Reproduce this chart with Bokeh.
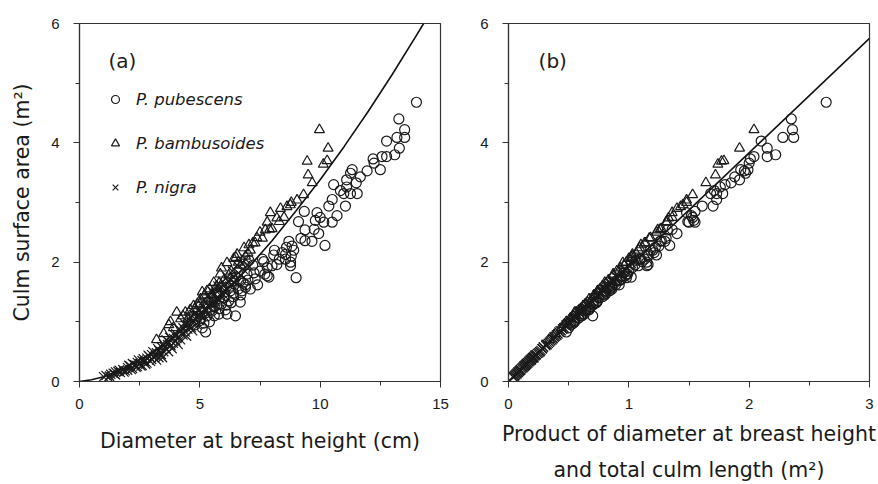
from bokeh.plotting import figure
from bokeh.layouts import row
from bokeh.models import Range1d, SingleIntervalTicker, Legend, LegendItem, Label
from bokeh.embed import file_html
from bokeh.resources import INLINE

# ---------------- data ----------------
# P. pubescens : DBH (cm), culm surface area (m2), DBH x culm length (m2)
pub_dbh = [14.0, 13.27, 13.51, 13.51, 13.19, 13.29, 12.76, 13.1, 12.76, 12.57, 12.2, 12.5,
           12.24, 11.95, 11.67, 11.33, 11.26, 11.5, 11.1, 11.1, 11.26, 11.54, 10.98, 11.05,
           10.56, 10.84, 10.5, 10.36, 10.7, 10.5, 10.15, 9.87, 10.0, 9.8, 9.94, 9.75, 10.2,
           9.37, 9.34, 9.1, 9.37, 9.66, 8.83, 8.9, 9.0, 8.77, 8.77, 8.56, 8.56, 8.42, 8.2,
           8.07, 8.0, 7.8, 7.8, 7.87, 7.66, 7.4, 7.25, 6.96, 6.9, 6.75, 6.68, 6.48, 6.4, 6.06,
           6.13, 5.79, 5.24, 5.17, 5.6, 5.88, 6.41, 6.69, 7.04, 6.27, 5.79, 5.44, 5.03,
           4.8, 5.0, 5.3, 5.5, 5.6, 5.9, 6.0, 6.2, 6.3, 6.6, 6.8, 7.0, 7.2, 5.7, 6.5, 7.5,
           7.6, 8.1, 8.6, 8.7,
           5.1, 5.4, 5.6, 5.8, 6.1, 6.3, 6.4, 6.7, 6.9, 7.1, 7.3, 7.7, 8.3, 8.8, 9.2]
pub_area = [4.68, 4.40, 4.22, 4.09, 4.09, 3.91, 4.03, 3.80, 3.77, 3.77, 3.73, 3.55,
            3.66, 3.53, 3.43, 3.55, 3.49, 3.33, 3.26, 3.38, 3.15, 3.15, 3.15, 2.94,
            3.30, 3.20, 3.05, 2.94, 2.78, 2.67, 2.67, 2.83, 2.75, 2.70, 2.48, 2.55, 2.28,
            2.54, 2.85, 2.68, 2.36, 2.35, 2.27, 2.20, 1.74, 2.00, 1.94, 2.13, 2.05, 2.16, 1.96,
            2.12, 1.94, 1.91, 1.77, 1.75, 2.01, 1.62, 1.82, 1.80, 1.58, 1.52, 1.33, 1.10, 1.42, 1.20,
            1.13, 1.13, 0.83, 0.98, 1.33, 1.58, 1.69, 1.69, 2.03, 1.52, 1.46, 1.20, 1.06,
            0.95, 1.02, 1.10, 1.18, 1.25, 1.30, 1.40, 1.35, 1.60, 1.55, 1.65, 1.70, 1.95, 1.50, 1.75, 1.85,
            2.05, 2.20, 2.25, 2.35,
            0.90, 1.00, 1.10, 1.22, 1.28, 1.32, 1.48, 1.45, 1.62, 1.55, 1.72, 1.80, 2.05, 2.10, 2.40]
pub_dl = [2.64, 2.35, 2.36, 2.37, 2.28, 2.15, 2.10, 2.22, 2.15, 2.04, 2.01, 1.99,
          2.00, 1.96, 1.88, 1.93, 1.97, 1.85, 1.76, 1.92, 1.78, 1.73, 1.68, 1.70,
          1.80, 1.71, 1.73, 1.61, 1.52, 1.55, 1.50, 1.48, 1.53, 1.54, 1.40, 1.36, 1.34,
          1.32, 1.55, 1.49, 1.27, 1.30, 1.25, 1.20, 0.98, 1.15, 1.15, 1.16, 1.09, 1.21, 1.16,
          1.23, 1.08, 1.03, 0.97, 1.02, 1.11, 0.92, 0.96, 0.98, 0.86, 0.84, 0.73, 0.70, 0.78, 0.67,
          0.63, 0.61, 0.48, 0.54, 0.70, 0.83, 0.90, 0.92, 1.06, 0.80, 0.79, 0.64, 0.58,
          0.52, 0.55, 0.60, 0.64, 0.68, 0.71, 0.75, 0.74, 0.86, 0.84, 0.88, 0.93, 1.05, 0.80, 0.93, 1.00,
          1.10, 1.18, 1.22, 1.26,
          0.50, 0.55, 0.61, 0.67, 0.70, 0.73, 0.81, 0.80, 0.89, 0.86, 0.94, 0.99, 1.13, 1.16, 1.31]

# P. bambusoides
bam_dbh = [9.97, 10.33, 10.13, 10.29, 9.46, 9.5, 9.67, 9.31, 9.04, 8.76, 8.62, 8.35, 8.2,
           7.93, 7.8, 8.0, 7.72, 7.37, 7.3, 7.04, 6.84, 6.55, 6.13, 6.41, 5.85, 5.58, 5.3,
           5.03, 4.74, 4.4, 4.04, 3.78, 3.71, 6.3, 6.0, 5.7, 6.9, 7.1, 7.6, 5.2, 4.9, 4.6,
           4.2, 3.9, 3.5, 3.2, 8.5, 6.6,
           4.3, 4.5, 4.8, 5.0, 5.1, 5.4, 5.5, 5.8, 5.9, 6.2, 6.5, 6.7, 7.0, 7.2, 7.5, 7.9, 8.3, 8.8]
bam_area = [4.22, 3.91, 3.64, 3.70, 3.69, 3.46, 3.33, 3.13, 3.04, 2.96, 2.93, 2.90, 2.74,
            2.83, 2.67, 2.56, 2.54, 2.41, 2.32, 2.29, 2.24, 2.13, 1.99, 2.06, 1.80, 1.66, 1.52,
            1.38, 1.27, 1.16, 1.16, 1.00, 0.95, 1.85, 1.70, 1.60, 2.10, 2.20, 2.40, 1.45, 1.30, 1.20,
            1.05, 0.90, 0.80, 0.70, 2.75, 2.00,
            1.10, 1.05, 1.22, 1.30, 1.50, 1.55, 1.45, 1.65, 1.90, 1.78, 2.08, 1.95, 2.15, 2.32, 2.50, 2.55, 2.68, 3.00]
bam_dl = [2.04, 1.92, 1.74, 1.79, 1.77, 1.72, 1.64, 1.53, 1.48, 1.45, 1.43, 1.40, 1.33,
          1.36, 1.31, 1.27, 1.24, 1.18, 1.13, 1.10, 1.09, 1.03, 0.95, 1.00, 0.87, 0.80, 0.74,
          0.67, 0.62, 0.56, 0.55, 0.48, 0.46, 0.90, 0.83, 0.78, 1.03, 1.08, 1.17, 0.71, 0.64, 0.59,
          0.51, 0.44, 0.39, 0.34, 1.36, 0.98,
          0.54, 0.52, 0.60, 0.64, 0.74, 0.76, 0.72, 0.81, 0.93, 0.87, 1.02, 0.96, 1.06, 1.14, 1.23, 1.26, 1.32, 1.48]

# P. nigra
nig_dbh = [1.0, 1.1, 1.2, 1.3, 1.4, 1.5, 1.6, 1.7, 1.8, 1.9, 2.0, 2.0, 2.1, 2.2, 2.3, 2.4, 2.4,
           2.5, 2.6, 2.6, 2.7, 2.8, 2.8, 2.9, 3.0, 3.0, 3.1, 3.2, 3.2, 3.3, 3.4, 3.4, 3.5, 3.5,
           3.6, 3.7, 3.7, 3.8, 3.9, 3.9, 4.0, 4.0, 4.1, 4.2, 4.2, 4.3, 4.3, 4.4, 4.4, 4.5, 4.5,
           4.6, 4.6, 4.7, 4.7, 4.8, 4.8, 4.9, 5.0, 5.0, 5.1, 5.1, 5.2, 5.3, 5.3, 5.4, 5.4, 5.5,
           5.6, 5.6, 5.7, 5.8, 5.8, 5.9, 6.0, 6.0, 6.1, 6.2, 6.3, 6.4, 6.5, 6.6, 6.7, 6.8,
           2.2, 1.5, 3.6, 4.1, 3.3,
           1.25, 1.45, 1.65, 1.85, 2.05, 2.15, 2.35, 2.45, 2.55, 2.65, 2.75, 2.85, 2.95, 3.05,
           3.15, 3.25, 3.35, 3.45, 3.55, 3.65, 3.75, 3.85, 3.95, 4.05, 4.15, 4.25, 4.35, 4.45,
           4.55, 4.65, 4.75, 4.85, 4.95, 5.05, 5.15, 5.25, 5.35, 5.45, 5.55, 5.65, 5.75, 5.85,
           5.95, 6.05, 6.15, 6.25, 6.35, 6.45, 6.55, 6.75, 6.9, 7.0]
nig_area = [0.08, 0.10, 0.07, 0.12, 0.14, 0.11, 0.17, 0.15, 0.20, 0.18, 0.23, 0.19, 0.26, 0.22,
            0.28, 0.25, 0.32, 0.30, 0.35, 0.27, 0.33, 0.39, 0.31, 0.42, 0.37, 0.45, 0.40, 0.48,
            0.36, 0.52, 0.45, 0.58, 0.50, 0.62, 0.55, 0.66, 0.50, 0.60, 0.72, 0.64, 0.68, 0.80,
            0.75, 0.85, 0.70, 0.90, 0.78, 0.95, 0.83, 0.88, 1.00, 0.93, 1.08, 0.98, 0.85, 1.05,
            1.15, 1.10, 1.20, 1.02, 1.15, 1.28, 1.22, 1.32, 1.12, 1.25, 1.40, 1.35, 1.45, 1.28,
            1.40, 1.55, 1.38, 1.48, 1.60, 1.45, 1.55, 1.68, 1.62, 1.75, 1.70, 1.82, 1.78, 1.88,
            0.30, 0.16, 0.70, 0.62, 0.40,
            0.09, 0.13, 0.19, 0.16, 0.27, 0.20, 0.24, 0.36, 0.26, 0.38, 0.29, 0.44, 0.34, 0.50,
            0.43, 0.55, 0.47, 0.40, 0.57, 0.62, 0.74, 0.55, 0.78, 0.72, 0.88, 0.80, 0.98, 0.76,
            1.05, 0.90, 1.12, 0.96, 1.18, 1.08, 1.35, 1.18, 1.45, 1.30, 1.50, 1.34, 1.60, 1.45,
            1.68, 1.52, 1.75, 1.60, 1.85, 1.65, 1.95, 1.98, 2.05, 1.95]
nig_dl = [0.04, 0.05, 0.04, 0.06, 0.07, 0.06, 0.09, 0.08, 0.10, 0.09, 0.12, 0.10, 0.13, 0.11,
          0.14, 0.13, 0.16, 0.15, 0.18, 0.14, 0.17, 0.20, 0.16, 0.21, 0.19, 0.23, 0.20, 0.25,
          0.19, 0.27, 0.23, 0.29, 0.26, 0.31, 0.28, 0.34, 0.26, 0.31, 0.37, 0.33, 0.35, 0.41,
          0.38, 0.43, 0.36, 0.46, 0.40, 0.48, 0.42, 0.45, 0.51, 0.48, 0.55, 0.50, 0.44, 0.54,
          0.59, 0.56, 0.61, 0.52, 0.59, 0.65, 0.62, 0.68, 0.57, 0.64, 0.72, 0.69, 0.74, 0.66,
          0.72, 0.79, 0.71, 0.76, 0.82, 0.74, 0.80, 0.86, 0.83, 0.90, 0.87, 0.93, 0.91, 0.96,
          0.15, 0.08, 0.36, 0.32, 0.21,
          0.05, 0.07, 0.10, 0.08, 0.14, 0.10, 0.12, 0.18, 0.13, 0.19, 0.15, 0.22, 0.17, 0.26,
          0.22, 0.28, 0.24, 0.21, 0.29, 0.32, 0.38, 0.28, 0.40, 0.37, 0.45, 0.41, 0.50, 0.39,
          0.54, 0.46, 0.57, 0.49, 0.60, 0.55, 0.69, 0.60, 0.74, 0.67, 0.77, 0.69, 0.82, 0.74,
          0.86, 0.78, 0.90, 0.82, 0.95, 0.85, 1.00, 1.02, 1.05, 1.00]

# fitted curve (a) and fitted line (b)
curve_dbh = [0, 0.5, 1, 1.5, 2, 3, 4, 5, 6, 7, 8, 9, 10, 11, 12, 13, 14, 14.3]
curve_area = [0, 0.03, 0.08, 0.16, 0.25, 0.48, 0.77, 1.12, 1.48, 1.90, 2.36, 2.86, 3.38,
              3.94, 4.53, 5.15, 5.80, 6.0]
line_dl = [0, 3]
line_area = [0, 5.75]

LABEL_FONT = "DejaVu Sans"
TICK_FONT = "Liberation Sans"
INK = "#1a1a1a"
MS = 10
LW = 1.2


def style(p, x_interval):
    p.xaxis.ticker = SingleIntervalTicker(interval=x_interval, num_minor_ticks=2)
    p.yaxis.ticker = SingleIntervalTicker(interval=2, num_minor_ticks=2)
    p.xgrid.visible = False
    p.ygrid.visible = False
    p.outline_line_color = "#333333"
    p.outline_line_width = 1.2
    for ax in (p.xaxis[0], p.yaxis[0]):
        ax.axis_line_color = "#333333"
        ax.axis_line_width = 1.2
        ax.major_tick_line_color = "#333333"
        ax.minor_tick_line_color = "#333333"
        ax.major_tick_out = 6
        ax.major_tick_in = 0
        ax.minor_tick_out = 4
        ax.minor_tick_in = 0
        ax.major_label_text_font = TICK_FONT
        ax.major_label_text_font_size = "15px"
        ax.major_label_text_color = INK
        ax.axis_label_text_font = LABEL_FONT
        ax.axis_label_text_font_size = "20.5px"
        ax.axis_label_text_font_style = "normal"
        ax.axis_label_text_color = INK
    p.xaxis.major_label_standoff = 11
    p.yaxis.major_label_standoff = 14


# ---------------- panel (a) ----------------
p1 = figure(width=460, height=484, output_backend="svg", toolbar_location=None,
            x_range=Range1d(0, 15), y_range=Range1d(0, 6),
            min_border_left=79, min_border_right=20, min_border_top=23, min_border_bottom=102)
style(p1, 5)
p1.xaxis.axis_label = "Diameter at breast height (cm)"
p1.yaxis.axis_label = "Culm surface area (m²)"
p1.xaxis.axis_label_standoff = 17
p1.yaxis.axis_label_standoff = 14

p1.line(curve_dbh, curve_area, line_color="#111111", line_width=1.6)
r_pub = p1.scatter(pub_dbh, pub_area, marker="circle", size=MS, fill_color=None,
                   line_color=INK, line_width=LW)
r_bam = p1.scatter(bam_dbh, bam_area, marker="triangle", size=MS, fill_color=None,
                   line_color=INK, line_width=LW)
r_nig = p1.scatter(nig_dbh, nig_area, marker="x", size=13, line_color=INK, line_width=LW)

p1.add_layout(Label(x=1.2, y=5.37, text="(a)", text_font=LABEL_FONT, text_font_size="20px",
                    text_baseline="middle", text_color=INK))

legend = Legend(items=[LegendItem(label="P. pubescens", renderers=[r_pub]),
                       LegendItem(label="P. bambusoides", renderers=[r_bam]),
                       LegendItem(label="P. nigra", renderers=[r_nig])],
                location=(26, 184), orientation="vertical",
                label_text_font=LABEL_FONT, label_text_font_size="16.5px",
                label_text_font_style="italic", label_text_color=INK,
                glyph_width=20, glyph_height=20, label_height=20, spacing=24,
                label_standoff=11, padding=0, margin=0,
                border_line_alpha=0, background_fill_alpha=0)
p1.add_layout(legend)

# ---------------- panel (b) ----------------
p2 = figure(width=418, height=484, output_backend="svg", toolbar_location=None,
            x_range=Range1d(0, 3), y_range=Range1d(0, 6),
            min_border_left=48, min_border_right=9, min_border_top=23, min_border_bottom=102)
style(p2, 1)
p2.xaxis.axis_label = "Product of diameter at breast height\nand total culm length (m²)"
p2.xaxis.axis_label_standoff = 10
p2.xaxis.axis_label_text_line_height = 1.5

p2.line(line_dl, line_area, line_color="#111111", line_width=1.6)
p2.scatter(pub_dl, pub_area, marker="circle", size=MS, fill_color=None,
           line_color=INK, line_width=LW)
p2.scatter(bam_dl, bam_area, marker="triangle", size=MS, fill_color=None,
           line_color=INK, line_width=LW)
p2.scatter(nig_dl, nig_area, marker="x", size=13, line_color=INK, line_width=LW)
p2.add_layout(Label(x=0.25, y=5.37, text="(b)", text_font=LABEL_FONT, text_font_size="20px",
                    text_baseline="middle", text_color=INK))

layout = row(p1, p2)
open("out.html", "w").write(file_html(layout, INLINE))
